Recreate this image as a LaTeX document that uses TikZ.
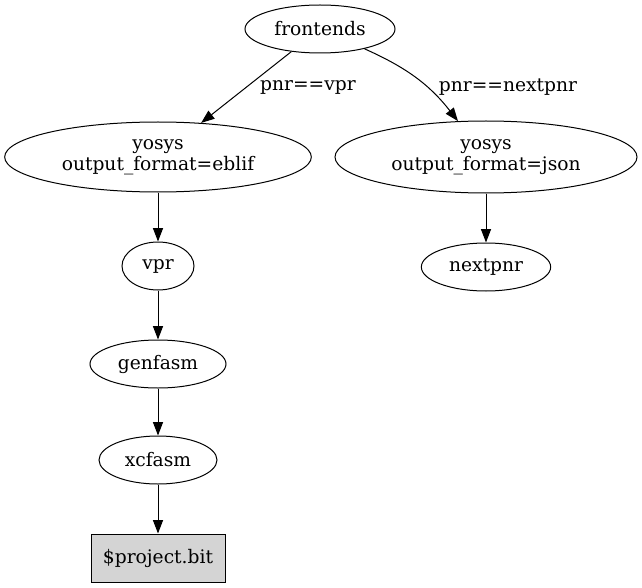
\documentclass[tikz,border=0pt]{standalone}
\usepackage{fontspec}
\setmainfont{DejaVu Serif}
\usetikzlibrary{arrows.meta,shapes.geometric}
\tikzset{
  flownode/.style = {align=center, inner sep=0pt, text centered, draw=black, line width=0.75pt,
                     font=\fontsize{14}{16}\selectfont},
  flow_e/.style = {flownode, ellipse, minimum height=36pt},
  flow_b/.style = {flownode, rectangle, fill=black!17, minimum height=36pt},
  flow_l/.style = {align=center, inner sep=0pt, font=\fontsize{14}{16}\selectfont},
  flowedge/.style = {draw=black, line width=0.75pt, -{Triangle[length=10pt, width=7.5pt]}},
}
\begin{document}
\begin{tikzpicture}[x=0.75pt, y=-0.75pt]
  \useasboundingbox (0,0) rectangle (642,588);
  \node [flow_e, minimum width=112.5pt] (front) at (320,29) {frontends};
  \node [flow_e, minimum width=230pt, minimum height=52.5pt] (eblif) at (158,157) {yosys\\output\_format=eblif};
  \node [flow_e, minimum width=226.5pt, minimum height=54pt] (json) at (486,157) {yosys\\output\_format=json};
  \node [flow_e, minimum width=54pt] (vpr) at (158,266) {vpr};
  \node [flow_e, minimum width=97pt] (nextpnr) at (486,267) {nextpnr};
  \node [flow_e, minimum width=102pt] (genfasm) at (158,364) {genfasm};
  \node [flow_e, minimum width=88.5pt] (xcfasm) at (158,460) {xcfasm};
  \node [flow_b, minimum width=100.5pt] (bit) at (158,558) {\$project.bit};
  \node [flow_l] (lvpr) at (308,87) {pnr==vpr};
  \node [flow_l] (lnext) at (508,87) {pnr==nextpnr};
  \draw [flowedge] (front) -- (eblif);
  \draw [flowedge] (front) to[out=-24, in=128] (json);
  \draw [flowedge] (eblif) -- (vpr);
  \draw [flowedge] (json) -- (nextpnr);
  \draw [flowedge] (vpr) -- (genfasm);
  \draw [flowedge] (genfasm) -- (xcfasm);
  \draw [flowedge] (xcfasm) -- (bit);
\end{tikzpicture}
\end{document}
